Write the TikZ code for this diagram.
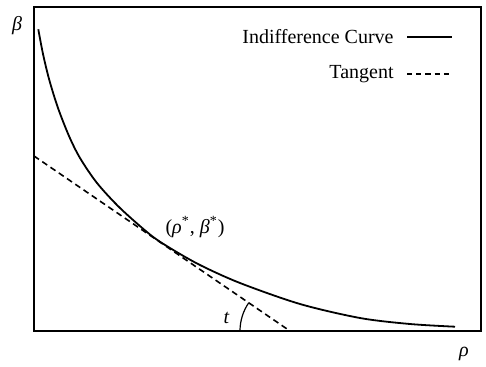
\documentclass[tikz,border=0pt]{standalone}
\usepackage{fontspec}
\setmainfont{Liberation Serif}
\usepackage{tikz}
\usetikzlibrary{positioning}

\begin{document}
\begin{tikzpicture}[
    x=0.5pt, y=0.5pt,
    every node/.style={font=\fontsize{10}{12}\selectfont, inner sep=1pt},
    frame/.style={draw=black, line width=1.4pt},
    icurve/.style={line width=0.9pt},
    tangent/.style={line width=0.8pt, dash pattern=on 3pt off 2pt},
    legtangent/.style={line width=0.8pt, dash pattern=on 2.6pt off 2pt},
    anglearc/.style={line width=0.6pt}
]
\useasboundingbox (0,0) rectangle (486,366);

% --- axes ---
\draw [frame] (34,35) rectangle (481,359);
\node (beta) at (17,340) {\textit{β}};
\node (rho) at (464,12) {\textit{ρ}};

% --- indifference curve ---
\draw [icurve] plot [smooth, tension=0.5] coordinates {
    (38.3,336.7) (43,312) (49.3,286) (58,258) (69,230) (80,208)
    (97,183) (120,158) (150,131.5) (170,118) (200,101) (240,83)
    (300,62) (360,48) (410,42) (455,39.3)};

% --- tangent ---
\coordinate (tanstart) at (34,210);
\coordinate (tanend) at (290,35);
\draw [tangent] (tanstart) -- (tanend);
\draw [anglearc] (240,35) arc [start angle=180, end angle=145.6, radius=50];
\node (t) at (226.5,48) {\textit{t}};
\node (opt) at (195,139) {(\textit{ρ}\textsuperscript{*}, \textit{β}\textsuperscript{*})};

% --- legend ---
\node (legcurve) [anchor=east] at (396,329) {Indifference Curve};
\node (legtan) [anchor=east] at (396,292) {Tangent};
\draw [icurve] ([xshift=5.5pt]legcurve.east) -- ++(45,0);
\draw [legtangent] ([xshift=5.5pt]legtan.east) -- ++(45,0);

\end{tikzpicture}
\end{document}
